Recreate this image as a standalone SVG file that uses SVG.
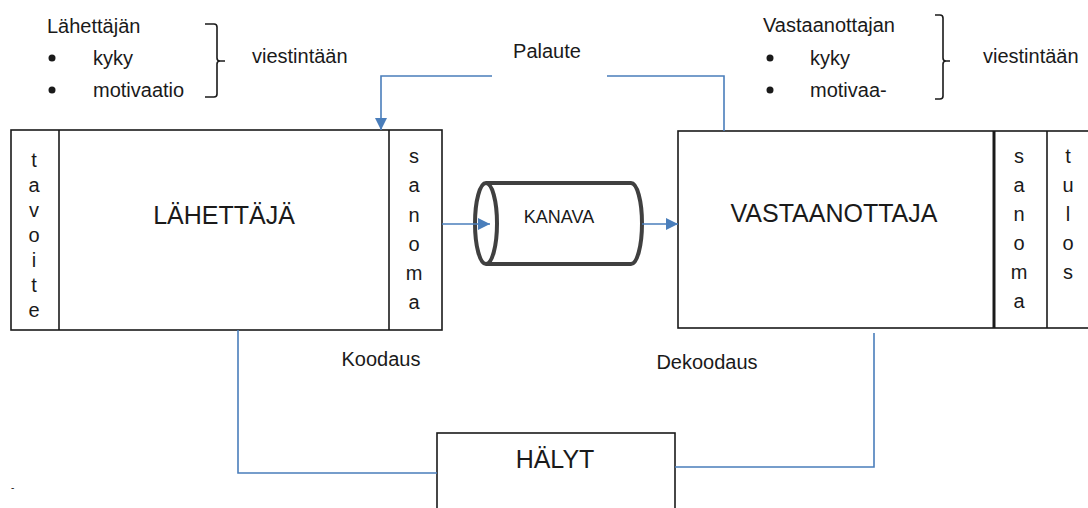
<svg xmlns="http://www.w3.org/2000/svg" width="1088" height="508" viewBox="0 0 1088 508">
  <style>
    text { font-family: "Liberation Sans", Arial, sans-serif; fill: #1a1a1a; }
    .lbl { font-size: 20px; }
    .big { font-size: 25px; text-anchor: middle; }
    .col { font-size: 20px; text-anchor: middle; }
    .box { fill: #ffffff; stroke: #1a1a1a; stroke-width: 1.6; }
    .div { stroke: #1a1a1a; stroke-width: 1.6; }
    .brace { fill: none; stroke: #1a1a1a; stroke-width: 1.6; }
    .link { fill: none; stroke: #4a7ebb; stroke-width: 1.6; }
  </style>
  <defs>
    <marker id="arrow" viewBox="0 0 10 10" refX="10" refY="5" markerWidth="7" markerHeight="7" markerUnits="userSpaceOnUse" orient="auto">
      <path d="M0,0 L10,5 L0,10 z" fill="#4a7ebb"/>
    </marker>
    <marker id="arrowL" viewBox="0 0 10 10" refX="10" refY="5" markerWidth="12" markerHeight="12" markerUnits="userSpaceOnUse" orient="auto">
      <path d="M0,0 L10,5 L0,10 z" fill="#4a7ebb"/>
    </marker>
  </defs>

  <rect width="1088" height="508" fill="#ffffff"/>

  <!-- sender's ability / motivation -->
  <g id="sender-note">
    <text class="lbl" x="47" y="33">Lähettäjän</text>
    <circle cx="52" cy="58" r="3.5" fill="#1a1a1a"/>
    <text class="lbl" x="93" y="65">kyky</text>
    <circle cx="52" cy="90" r="3.5" fill="#1a1a1a"/>
    <text class="lbl" x="93" y="97">motivaatio</text>
    <path class="brace" d="M205,24 H214 Q217,24 217,27 V58 Q217,61 220,61 H225 M220,61 Q217,61 217,64 V94 Q217,97 214,97 H205"/>
    <text class="lbl" x="252" y="63">viestintään</text>
  </g>

  <!-- receiver's ability / motivation -->
  <g id="receiver-note">
    <text class="lbl" x="763" y="32">Vastaanottajan</text>
    <circle cx="770" cy="58" r="3.5" fill="#1a1a1a"/>
    <text class="lbl" x="810" y="65">kyky</text>
    <circle cx="770" cy="90" r="3.5" fill="#1a1a1a"/>
    <text class="lbl" x="810" y="97">motivaa-</text>
    <path class="brace" d="M935,15 H940 Q943,15 943,18 V58 Q943,61 946,61 H950 M946,61 Q943,61 943,64 V96 Q943,99 940,99 H935"/>
    <text class="lbl" x="983" y="63">viestintään</text>
  </g>

  <g id="feedback-label">
    <text class="lbl" x="547" y="58" text-anchor="middle">Palaute</text>
  </g>

  <!-- sender block -->
  <g id="sender">
    <rect class="box" x="11" y="130" width="431" height="200"/>
    <line class="div" x1="59" y1="130" x2="59" y2="330"/>
    <line class="div" x1="389" y1="130" x2="389" y2="330"/>
    <text class="big" x="224" y="224">LÄHETTÄJÄ</text>
    <g class="col">
      <text x="34" y="167">t</text>
      <text x="34" y="192">a</text>
      <text x="34" y="217">v</text>
      <text x="34" y="242">o</text>
      <text x="34" y="267">i</text>
      <text x="34" y="292">t</text>
      <text x="34" y="317">e</text>
    </g>
    <g class="col">
      <text x="414" y="163">s</text>
      <text x="414" y="192">a</text>
      <text x="414" y="222">n</text>
      <text x="414" y="251">o</text>
      <text x="414" y="280">m</text>
      <text x="414" y="309">a</text>
    </g>
  </g>

  <!-- channel -->
  <g id="channel">
    <path d="M486,183 H631 A11,40.5 0 0 1 631,264 H486" fill="#ffffff" stroke="#404040" stroke-width="4"/>
    <ellipse cx="486" cy="223.5" rx="11" ry="40.5" fill="#ffffff" stroke="#404040" stroke-width="4"/>
    <text x="559" y="223" font-size="18" text-anchor="middle">KANAVA</text>
  </g>

  <!-- receiver block -->
  <g id="receiver">
    <rect class="box" x="678" y="131" width="412" height="197"/>
    <line x1="994" y1="131" x2="994" y2="328" stroke="#1a1a1a" stroke-width="3"/>
    <line class="div" x1="1047" y1="131" x2="1047" y2="328"/>
    <text class="big" x="834" y="222">VASTAANOTTAJA</text>
    <g class="col">
      <text x="1019" y="163">s</text>
      <text x="1019" y="192">a</text>
      <text x="1019" y="221">n</text>
      <text x="1019" y="250">o</text>
      <text x="1019" y="279">m</text>
      <text x="1019" y="308">a</text>
    </g>
    <g class="col">
      <text x="1068" y="163">t</text>
      <text x="1068" y="192">u</text>
      <text x="1068" y="221">l</text>
      <text x="1068" y="250">o</text>
      <text x="1068" y="279">s</text>
    </g>
  </g>

  <!-- noise -->
  <g id="noise">
    <rect class="box" x="437" y="433" width="238" height="90"/>
    <text class="big" x="555" y="468">HÄLYT</text>
  </g>

  <g id="coding-labels">
    <text class="lbl" x="381" y="366" text-anchor="middle">Koodaus</text>
    <text class="lbl" x="707" y="369" text-anchor="middle">Dekoodaus</text>
  </g>

  <!-- connectors -->
  <g id="connectors">
    <polyline class="link" points="492,76 381,76 381,130" marker-end="url(#arrowL)"/>
    <polyline class="link" points="607,76 724,76 724,131"/>
    <line class="link" x1="442" y1="224" x2="490" y2="224" marker-end="url(#arrowL)"/>
    <line class="link" x1="642" y1="224" x2="678" y2="224" marker-end="url(#arrowL)"/>
    <polyline class="link" points="238,330 238,473 437,473"/>
    <polyline class="link" points="874,333 874,467 675,467"/>
  </g>

  <text x="11" y="491" font-size="10" fill="#666666">-</text>
</svg>
